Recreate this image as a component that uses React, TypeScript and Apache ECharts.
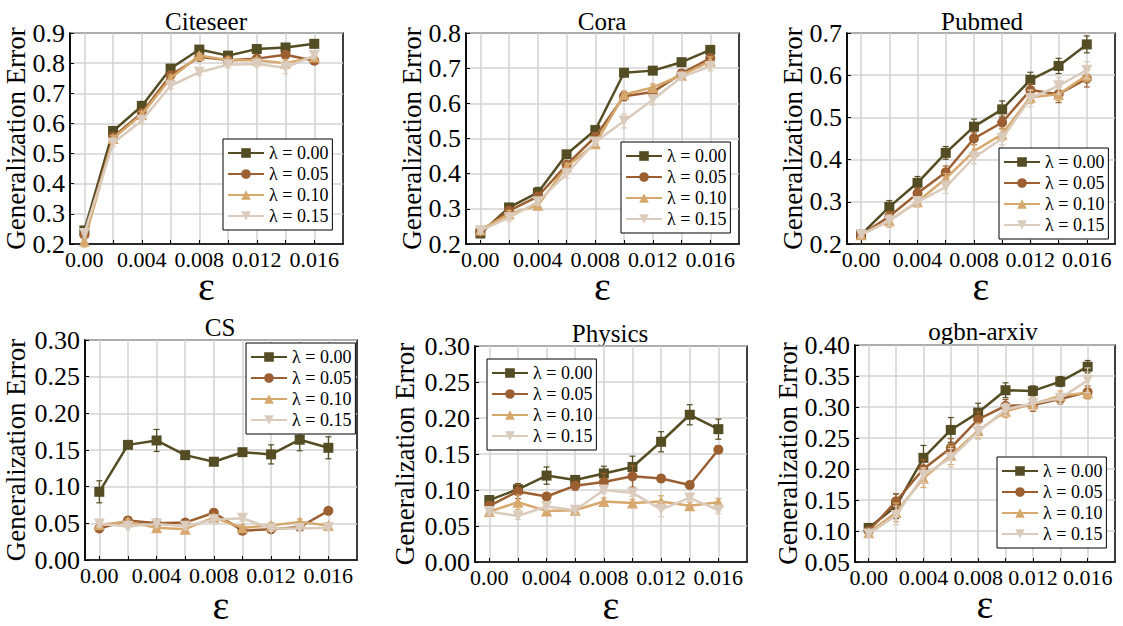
import React, { useEffect, useRef } from 'react';
import * as echarts from 'echarts';

const FONT = '"Liberation Serif", "Times New Roman", serif';

const EPS = [0, 0.002, 0.004, 0.006, 0.008, 0.01, 0.012, 0.014, 0.016];
const EPS_LABELS = [0, 0.004, 0.008, 0.012, 0.016];
const LAMBDAS = ['λ = 0.00', 'λ = 0.05', 'λ = 0.10', 'λ = 0.15'];
const COLORS = ['#544c22', '#9b5f32', '#d6a86e', '#dacbbc'];
const SYMBOLS = ['rect', 'circle', 'triangle', 'path://M0,0L2,0L1,1.732Z'];

// Citeseer
const CITESEER_00 = [0.245, 0.575, 0.658, 0.782, 0.845, 0.825, 0.847, 0.852, 0.864];
const CITESEER_05 = [0.23, 0.555, 0.635, 0.76, 0.82, 0.81, 0.815, 0.828, 0.808];
const CITESEER_10 = [0.21, 0.55, 0.63, 0.75, 0.825, 0.81, 0.81, 0.8, 0.82];
const CITESEER_15 = [0.235, 0.535, 0.61, 0.725, 0.77, 0.795, 0.797, 0.785, 0.825];
const CITESEER_ERR = [
  [0.01, 0.012, 0.015, 0.01, 0.008, 0.008, 0.008, 0.008, 0.008],
  [0.01, 0.01, 0.012, 0.01, 0.008, 0.008, 0.008, 0.012, 0.01],
  [0.02, 0.01, 0.01, 0.01, 0.008, 0.008, 0.008, 0.01, 0.01],
  [0.015, 0.012, 0.012, 0.01, 0.01, 0.01, 0.01, 0.02, 0.01],
];

// Cora
const CORA_00 = [0.23, 0.304, 0.346, 0.455, 0.524, 0.687, 0.693, 0.717, 0.752];
const CORA_05 = [0.235, 0.295, 0.335, 0.425, 0.505, 0.62, 0.632, 0.685, 0.728];
const CORA_10 = [0.24, 0.285, 0.31, 0.42, 0.485, 0.625, 0.645, 0.68, 0.72];
const CORA_15 = [0.238, 0.275, 0.32, 0.4, 0.49, 0.55, 0.61, 0.675, 0.705];
const CORA_ERR = [
  [0.008, 0.01, 0.015, 0.01, 0.01, 0.008, 0.008, 0.008, 0.01],
  [0.008, 0.01, 0.012, 0.01, 0.012, 0.012, 0.01, 0.008, 0.012],
  [0.008, 0.01, 0.012, 0.01, 0.01, 0.01, 0.01, 0.008, 0.012],
  [0.008, 0.01, 0.01, 0.012, 0.01, 0.02, 0.015, 0.01, 0.012],
];

// Pubmed
const PUBMED_00 = [0.222, 0.288, 0.345, 0.416, 0.478, 0.519, 0.589, 0.622, 0.673];
const PUBMED_05 = [0.222, 0.265, 0.32, 0.37, 0.45, 0.488, 0.565, 0.555, 0.592];
const PUBMED_10 = [0.222, 0.255, 0.3, 0.355, 0.42, 0.46, 0.548, 0.555, 0.6];
const PUBMED_15 = [0.222, 0.255, 0.3, 0.335, 0.405, 0.45, 0.545, 0.575, 0.612];
const PUBMED_ERR = [
  [0.005, 0.015, 0.015, 0.015, 0.018, 0.02, 0.018, 0.018, 0.02],
  [0.005, 0.012, 0.012, 0.015, 0.015, 0.015, 0.015, 0.02, 0.02],
  [0.005, 0.015, 0.012, 0.012, 0.015, 0.015, 0.015, 0.015, 0.015],
  [0.005, 0.012, 0.012, 0.015, 0.015, 0.015, 0.02, 0.02, 0.02],
];

// CS
const CS_00 = [0.093, 0.157, 0.163, 0.143, 0.134, 0.147, 0.144, 0.164, 0.153];
const CS_05 = [0.043, 0.054, 0.05, 0.051, 0.0645, 0.04, 0.042, 0.045, 0.067];
const CS_10 = [0.048, 0.052, 0.044, 0.042, 0.058, 0.044, 0.047, 0.052, 0.047];
const CS_15 = [0.049, 0.046, 0.049, 0.046, 0.055, 0.057, 0.043, 0.043, 0.044];
const CS_ERR = [
  [0.015, 0.004, 0.015, 0.004, 0.004, 0.004, 0.013, 0.015, 0.015],
  [0.004, 0.004, 0.004, 0.004, 0.004, 0.004, 0.004, 0.004, 0.004],
  [0.004, 0.004, 0.004, 0.004, 0.004, 0.004, 0.004, 0.004, 0.004],
  [0.004, 0.004, 0.004, 0.004, 0.004, 0.004, 0.004, 0.004, 0.004],
];

// Physics
const PHYSICS_00 = [0.086, 0.101, 0.12, 0.114, 0.123, 0.132, 0.167, 0.2045, 0.1845];
const PHYSICS_05 = [0.078, 0.098, 0.091, 0.106, 0.111, 0.119, 0.116, 0.107, 0.156];
const PHYSICS_10 = [0.07, 0.083, 0.071, 0.072, 0.084, 0.082, 0.084, 0.078, 0.083];
const PHYSICS_15 = [0.07, 0.064, 0.077, 0.072, 0.1, 0.096, 0.073, 0.089, 0.072];
const PHYSICS_ERR = [
  [0.006, 0.008, 0.012, 0.006, 0.01, 0.015, 0.014, 0.014, 0.014],
  [0.006, 0.01, 0.005, 0.006, 0.012, 0.015, 0.005, 0.005, 0.005],
  [0.005, 0.01, 0.005, 0.005, 0.005, 0.005, 0.008, 0.005, 0.005],
  [0.005, 0.005, 0.005, 0.005, 0.005, 0.005, 0.01, 0.005, 0.005],
];

// ogbn-arxiv
const ARXIV_00 = [0.105, 0.14, 0.218, 0.263, 0.291, 0.327, 0.326, 0.341, 0.365];
const ARXIV_05 = [0.1, 0.148, 0.2, 0.234, 0.28, 0.302, 0.303, 0.313, 0.324];
const ARXIV_10 = [0.097, 0.13, 0.185, 0.222, 0.262, 0.293, 0.305, 0.318, 0.323];
const ARXIV_15 = [0.095, 0.125, 0.19, 0.218, 0.26, 0.296, 0.306, 0.314, 0.343];
const ARXIV_ERR = [
  [0.005, 0.02, 0.02, 0.02, 0.015, 0.012, 0.008, 0.008, 0.01],
  [0.005, 0.012, 0.015, 0.015, 0.012, 0.01, 0.01, 0.008, 0.01],
  [0.005, 0.015, 0.015, 0.015, 0.012, 0.01, 0.01, 0.008, 0.01],
  [0.005, 0.015, 0.012, 0.015, 0.012, 0.01, 0.01, 0.008, 0.02],
];

const PANELS = [
  { title: 'Citeseer', series: [CITESEER_00, CITESEER_05, CITESEER_10, CITESEER_15], err: CITESEER_ERR, yMin: 0.2, yMax: 0.9, yStep: 0.1, dec: 1 },
  { title: 'Cora', series: [CORA_00, CORA_05, CORA_10, CORA_15], err: CORA_ERR, yMin: 0.2, yMax: 0.8, yStep: 0.1, dec: 1 },
  { title: 'Pubmed', series: [PUBMED_00, PUBMED_05, PUBMED_10, PUBMED_15], err: PUBMED_ERR, yMin: 0.2, yMax: 0.7, yStep: 0.1, dec: 1 },
  { title: 'CS', series: [CS_00, CS_05, CS_10, CS_15], err: CS_ERR, yMin: 0, yMax: 0.3, yStep: 0.05, dec: 2 },
  { title: 'Physics', series: [PHYSICS_00, PHYSICS_05, PHYSICS_10, PHYSICS_15], err: PHYSICS_ERR, yMin: 0, yMax: 0.3, yStep: 0.05, dec: 2 },
  { title: 'ogbn-arxiv', series: [ARXIV_00, ARXIV_05, ARXIV_10, ARXIV_15], err: ARXIV_ERR, yMin: 0.05, yMax: 0.4, yStep: 0.05, dec: 2 },
];

// layout: grid box, legend box, title center, y-name gap, x-name gap
const LAYOUT = [
  { grid: [70, 33, 273, 211], legend: [223, 139], title: [206, 21], yGap: 41, xGap: 32 },
  { grid: [466, 33, 273, 211], legend: [621, 142], title: [602, 21], yGap: 41, xGap: 32 },
  { grid: [847, 33, 268, 211], legend: [999, 148], title: [982, 21], yGap: 41, xGap: 32 },
  { grid: [85, 340, 272, 220], legend: [246, 343], title: [220, 327], yGap: 56, xGap: 35 },
  { grid: [475, 346, 272, 220], legend: [487, 359], title: [610, 333], yGap: 57, xGap: 33 },
  { grid: [855, 345, 260, 217], legend: [997, 457], title: [983, 331], yGap: 54, xGap: 32 },
];

function buildOption() {
  const grid: any[] = [];
  const xAxis: any[] = [];
  const yAxis: any[] = [];
  const legend: any[] = [];
  const series: any[] = [];
  const graphic: any[] = [];

  PANELS.forEach((p, pi) => {
    const L = LAYOUT[pi];
    grid.push({
      left: L.grid[0], top: L.grid[1], width: L.grid[2], height: L.grid[3],
      show: true, borderColor: '#000', borderWidth: 1.5, containLabel: false,
    });
    xAxis.push({
      gridIndex: pi, type: 'value', min: -0.001, max: 0.018,
      name: 'ε', nameLocation: 'middle', nameGap: L.xGap, nameMoveOverlap: false,
      nameTextStyle: { fontFamily: FONT, fontSize: 40, lineHeight: 20, color: '#000' },
      axisLine: { show: true, onZero: false, lineStyle: { color: '#000', width: 1.5 } },
      axisTick: { show: true, inside: true, length: 4, customValues: EPS, lineStyle: { color: '#000', width: 1 } },
      axisLabel: {
        customValues: EPS_LABELS, fontFamily: FONT, fontSize: 22, color: '#000', margin: 4,
        formatter: (v: number) => (Math.abs(v) < 1e-9 ? '0.00' : v.toFixed(3)),
      },
      splitLine: { show: true, lineStyle: { color: '#d3d3d3', width: 1.5 } },
    });
    yAxis.push({
      gridIndex: pi, type: 'value', min: p.yMin, max: p.yMax, interval: p.yStep,
      name: 'Generalization Error', nameLocation: 'middle', nameGap: L.yGap, nameRotate: 90, nameMoveOverlap: false,
      nameTextStyle: { fontFamily: FONT, fontSize: 27, color: '#000' },
      axisLine: { show: true, onZero: false, lineStyle: { color: '#000', width: 1.5 } },
      axisTick: { show: true, inside: true, length: 4, lineStyle: { color: '#000', width: 1 } },
      axisLabel: {
        fontFamily: FONT, fontSize: 26, color: '#000', margin: 5,
        formatter: (v: number) => v.toFixed(p.dec),
      },
      splitLine: { show: true, lineStyle: { color: '#d3d3d3', width: 1.5 } },
    });
    legend.push({
      orient: 'vertical', left: L.legend[0], top: L.legend[1],
      data: LAMBDAS, itemWidth: 36, itemHeight: 12, itemGap: 3,
      textStyle: { fontFamily: FONT, fontSize: 18, color: '#000' },
      borderColor: '#000', borderWidth: 1, borderRadius: 0, backgroundColor: '#fff',
      padding: [5, 4, 5, 4], selectedMode: false,
    });
    graphic.push({
      type: 'text', x: L.title[0], y: L.title[1],
      style: { text: p.title, fontFamily: FONT, fontSize: 25, fontWeight: 'normal', fill: '#000', textAlign: 'center', textVerticalAlign: 'middle' },
    });

    p.series.forEach((vals, j) => {
      const color = COLORS[j];
      const errs = p.err[j];
      series.push({
        type: 'custom', xAxisIndex: pi, yAxisIndex: pi, silent: true, z: 2 + j,
        encode: { x: 0, y: [1, 2] },
        data: EPS.map((x, i) => [x, vals[i] - errs[i], vals[i] + errs[i]]),
        renderItem: (params: any, api: any) => {
          const x = api.value(0);
          const a = api.coord([x, api.value(1)]);
          const b = api.coord([x, api.value(2)]);
          const cap = 3;
          const st = { stroke: color, lineWidth: 1.2 };
          return {
            type: 'group',
            children: [
              { type: 'line', shape: { x1: a[0], y1: a[1], x2: b[0], y2: b[1] }, style: st },
              { type: 'line', shape: { x1: a[0] - cap, y1: a[1], x2: a[0] + cap, y2: a[1] }, style: st },
              { type: 'line', shape: { x1: b[0] - cap, y1: b[1], x2: b[0] + cap, y2: b[1] }, style: st },
            ],
          };
        },
      });
      series.push({
        name: LAMBDAS[j], type: 'line', xAxisIndex: pi, yAxisIndex: pi, z: 2 + j,
        data: EPS.map((x, i) => [x, vals[i]]),
        symbol: SYMBOLS[j], symbolSize: j >= 2 ? 11 : 10, showSymbol: true,
        lineStyle: { color, width: 2.5 }, itemStyle: { color },
        emphasis: { disabled: true },
      });
    });
  });

  return { animation: false, backgroundColor: '#fff', textStyle: { fontFamily: FONT }, grid, xAxis, yAxis, legend, series, graphic };
}

export default function App() {
  const ref = useRef<HTMLDivElement>(null);
  useEffect(() => {
    document.body.style.margin = '0';
    const chart = echarts.init(ref.current!, null, { renderer: 'svg' });
    chart.setOption(buildOption());
    return () => chart.dispose();
  }, []);
  return <div ref={ref} style={{ width: 1123, height: 626 }} />;
}
